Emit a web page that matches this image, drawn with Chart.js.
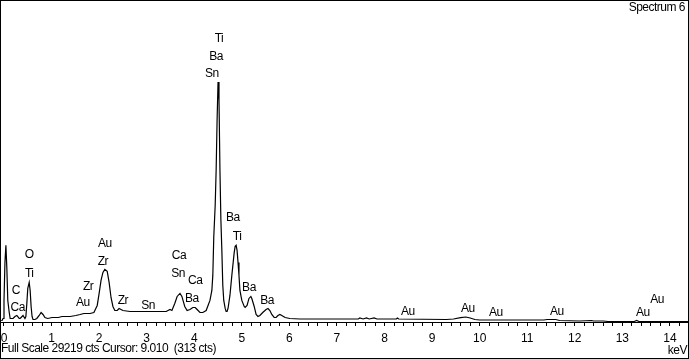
<!DOCTYPE html>
<html>
<head>
<meta charset="utf-8">
<script src="https://cdn.jsdelivr.net/npm/chart.js@4.4.1/dist/chart.umd.min.js"></script>
<style>
  html, body { margin: 0; padding: 0; background: #fff; }
  #wrap { position: relative; width: 689px; height: 359px; }
</style>
</head>
<body>
<div id="wrap"><canvas id="spectrum" width="689" height="359"></canvas></div>
<script>
// Spectrum trace (keV, counts)
const energy = [-0.06, -0.04, -0.02, 0.00, 0.02, 0.04, 0.06, 0.08, 0.11, 0.13, 0.19, 0.23, 0.27, 0.32, 0.34, 0.38, 0.40, 0.44, 0.46, 0.48,
    0.50, 0.53, 0.55, 0.57, 0.59, 0.61, 0.65, 0.69, 0.74, 0.78, 0.82, 0.86, 0.92, 1.01, 1.14, 1.22, 1.39, 1.51, 1.60, 1.68,
    1.77, 1.81, 1.89, 1.96, 2.00, 2.04, 2.08, 2.12, 2.17, 2.21, 2.25, 2.29, 2.33, 2.38, 2.42, 2.46, 2.50, 2.65, 2.86, 3.07,
    3.28, 3.41, 3.49, 3.53, 3.59, 3.64, 3.70, 3.74, 3.80, 3.85, 3.91, 3.97, 4.02, 4.06, 4.12, 4.18, 4.25, 4.29, 4.33, 4.37,
    4.39, 4.41, 4.44, 4.46, 4.48, 4.50, 4.52, 4.54, 4.56, 4.58, 4.60, 4.62, 4.65, 4.67, 4.69, 4.71, 4.75, 4.79, 4.84, 4.86,
    4.88, 4.90, 4.92, 4.94, 4.96, 5.00, 5.05, 5.07, 5.11, 5.15, 5.19, 5.21, 5.26, 5.30, 5.34, 5.38, 5.44, 5.51, 5.55, 5.59,
    5.63, 5.68, 5.72, 5.76, 5.80, 5.84, 5.91, 6.01, 6.22, 7.45, 7.48, 7.55, 7.62, 7.68, 7.78, 7.84, 8.25, 8.27, 8.30, 9.30,
    9.45, 9.60, 9.71, 9.80, 9.90, 10.00, 11.35, 11.42, 11.60, 11.68, 12.10, 12.35, 12.40, 12.60, 12.70, 13.25, 13.30, 13.35, 14.38];
const counts = [137, 137, 319, 1961, 5426, 6977, 4879, 1961, 866, 319, 319, 502, 593, 319, 319, 502, 593, 319, 502, 1687,
    3055, 3602, 2873, 1414, 502, 228, 228, 319, 593, 866, 684, 410, 319, 410, 410, 502, 502, 593, 684, 775,
    775, 775, 866, 1505, 2599, 3785, 4514, 4788, 4606, 3602, 2234, 1414, 1049, 1049, 1231, 1140, 1049, 958, 958, 958,
    958, 958, 1140, 1049, 1687, 2326, 2599, 2326, 1414, 1049, 1140, 1322, 1322, 1140, 866, 866, 1049, 1505, 1961, 2873,
    4241, 7706, 10625, 13817, 18377, 21842, 20201, 13817, 9257, 6521, 3329, 1961, 1231, 958, 958, 1231, 2417, 4241, 6338, 6885,
    6977, 6521, 5426, 4241, 2873, 1961, 1414, 1322, 1505, 2143, 2326, 2143, 1414, 684, 502, 593, 866, 1140, 1231, 1049,
    684, 410, 410, 593, 684, 593, 410, 319, 274, 274, 365, 274, 365, 274, 365, 274, 274, 365, 274, 228,
    274, 392, 456, 365, 228, 182, 182, 228, 228, 137, 91, 137, 91, 91, 46, 46, 137, 46, 46];

// Element markers (text, keV, counts level)
const peakNames = ['C', 'Ca', 'O', 'Ti', 'Au', 'Zr', 'Zr', 'Au', 'Zr', 'Sn', 'Ca', 'Sn', 'Ca', 'Ba',
    'Ti', 'Ba', 'Sn', 'Ba', 'Ti', 'Ba', 'Ba', 'Au', 'Au', 'Au', 'Au', 'Au', 'Au'];
const peakEnergy = [0.25, 0.29, 0.53, 0.53, 1.66, 1.77, 2.08, 2.12, 2.50, 3.03, 3.68, 3.66, 4.02, 3.95,
    4.52, 4.46, 4.37, 4.81, 4.90, 5.15, 5.53, 8.49, 9.75, 10.34, 11.62, 13.43, 13.73];
const peakLevel = [2873, 1322, 6156, 4423, 1778, 3238, 5518, 7159, 1961, 1505, 6065, 4423, 3785, 2143,
    25764, 24122, 22572, 9531, 7798, 3146, 1961, 958, 1231, 866, 958, 866, 2052];

const fullScale = 29219;
const xTicks = [];
for (let i = 0; i <= 71; i++) xTicks.push(Math.round(i * 2) / 10);

const FONT = 'Liberation Sans, Arial, sans-serif';

const annotate = {
    id: 'annotate',
    afterDraw(chart) {
        const ctx = chart.ctx;
        const xs = chart.scales.x, ys = chart.scales.y;
        ctx.save();
        ctx.fillStyle = '#000';
        ctx.font = '12px ' + FONT;
        ctx.letterSpacing = '-0.5px';
        ctx.textAlign = 'center';
        ctx.textBaseline = 'middle';
        peakNames.forEach((t, i) => {
            ctx.fillText(t, xs.getPixelForValue(peakEnergy[i]), ys.getPixelForValue(peakLevel[i]));
        });

        ctx.textAlign = 'right';
        ctx.fillText('Spectrum 6', 685, 8);
        ctx.fillText('keV', 687, 351);

        ctx.textAlign = 'left';
        ctx.fillText('Full Scale 29219 cts Cursor: 9.010  (313 cts)', 1, 349);

        // outer frame
        ctx.strokeStyle = '#000';
        ctx.lineWidth = 1;
        ctx.strokeRect(0.5, 0.5, 688, 358);
        ctx.letterSpacing = '0px';
        ctx.restore();
    }
};

new Chart(document.getElementById('spectrum').getContext('2d'), {
    type: 'line',
    data: {
        datasets: [{
            data: energy.map((e, i) => ({ x: e, y: counts[i] })),
            borderColor: '#000',
            borderWidth: 1.2,
            pointRadius: 0,
            tension: 0,
            fill: false
        }]
    },
    options: {
        responsive: false,
        animation: false,
        layout: { padding: { left: 1, right: 1, top: 1, bottom: 0 } },
        plugins: { legend: { display: false }, tooltip: { enabled: false } },
        scales: {
            x: {
                type: 'linear',
                min: -0.063,
                max: 14.38,
                offset: false,
                afterBuildTicks: scale => { scale.ticks = xTicks.map(v => ({ value: v })); },
                afterFit: scale => {
                    scale.height = 37;
                    scale.paddingLeft = 0;
                    scale.paddingRight = 0;
                },
                grid: { drawOnChartArea: false, drawTicks: true, tickLength: 4, color: '#000' },
                border: { display: true, color: '#000', width: 1 },
                ticks: {
                    autoSkip: false,
                    maxRotation: 0,
                    padding: 5,
                    color: '#000',
                    font: { family: FONT, size: 12 },
                    callback: v => (Number.isInteger(v) ? String(v) : '')
                }
            },
            y: {
                display: false,
                min: 0,
                max: fullScale
            }
        }
    },
    plugins: [annotate]
});
</script>
</body>
</html>
